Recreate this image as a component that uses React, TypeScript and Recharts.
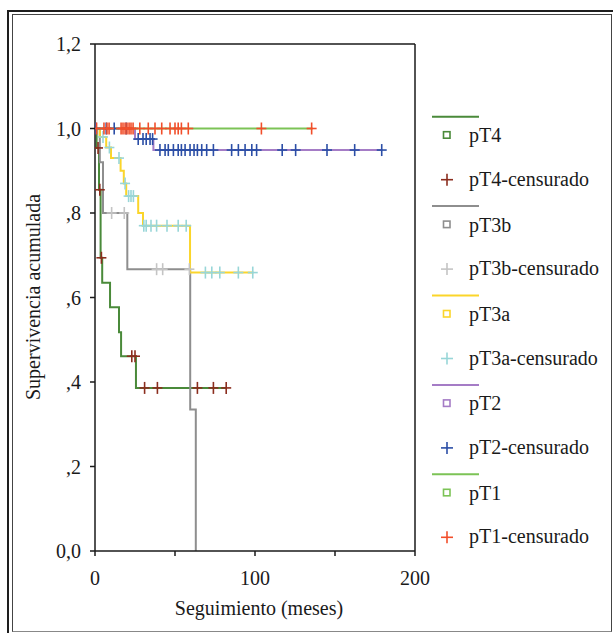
import React from "react";
import {
    ComposedChart, Line, Scatter, XAxis, YAxis, ReferenceLine
} from "recharts";

// Kaplan-Meier step curves: event times (months) and survival after each step
const pT4Times = [0, 1, 2.5, 3.5, 4.5, 9.4, 15, 16.3, 25.6, 82];
const pT4Surv = [1, 0.954, 0.855, 0.694, 0.635, 0.577, 0.518, 0.461, 0.386, 0.386];
const pT4Cens = [1.9, 3, 4, 23, 25, 31, 39, 64, 74, 82];

const pT3bTimes = [0, 3, 5, 20.2, 59.5, 63];
const pT3bSurv = [1, 0.92, 0.8, 0.667, 0.335, 0];
const pT3bCens = [10.4, 18.3, 38.5, 42.3, 59];

const pT3aTimes = [0, 3, 7, 10, 16, 18, 19.5, 27, 30, 59.4, 99];
const pT3aSurv = [1, 0.98, 0.955, 0.93, 0.9, 0.87, 0.84, 0.8, 0.77, 0.659, 0.659];
const pT3aCens = [5, 9, 15, 18.8, 21, 22.5, 24, 30.5, 32, 35, 38.5, 45, 52, 57, 69, 73, 78, 89.6, 98.6];

const pT2Times = [0, 25, 36.5, 179.5];
const pT2Surv = [1, 0.975, 0.949, 0.949];
const pT2Cens = [0.5, 7, 12, 19.5, 27, 30, 32, 34.4, 36, 40.6, 43.8, 45.8, 49, 52, 54, 56.3, 59.4, 61.9,
    64, 66.7, 69.8, 74, 85.4, 89.6, 93.8, 98, 101, 117, 125.4, 145, 162.3, 179.2];

const pT1Times = [0, 136];
const pT1Surv = [1, 1];
const pT1Cens = [1, 5.6, 7.5, 8.8, 16.3, 17.5, 18.8, 20, 21.3, 22.5, 23.8, 28, 33.3, 37.5, 41.7, 46.9,
    50, 52, 54, 58.3, 104, 135.4];

const xTicks = [0, 50, 100, 150, 200];
const yTicks = [0, 0.2, 0.4, 0.6, 0.8, 1.0, 1.2];

const FONT = "'Liberation Serif', 'Times New Roman', serif";

const toCurve = (times: number[], surv: number[]) => times.map((t, i) => ({ t, s: surv[i] }));

// censored marks sit on the curve: survival at that time
const toCens = (cens: number[], times: number[], surv: number[]) =>
    cens.map((t) => {
        let s = surv[0];
        for (let i = 0; i < times.length; i++) if (times[i] <= t) s = surv[i];
        return { t, s };
    });

const series = [
    { name: "pT4", times: pT4Times, surv: pT4Surv, cens: pT4Cens, line: "#4a8a3a", mark: "#8b2d1e" },
    { name: "pT3b", times: pT3bTimes, surv: pT3bSurv, cens: pT3bCens, line: "#8e8e8e", mark: "#c4c4c4" },
    { name: "pT3a", times: pT3aTimes, surv: pT3aSurv, cens: pT3aCens, line: "#fbd52a", mark: "#98d6d8" },
    { name: "pT2", times: pT2Times, surv: pT2Surv, cens: pT2Cens, line: "#a57cc6", mark: "#2b4ea6" },
    { name: "pT1", times: pT1Times, surv: pT1Surv, cens: pT1Cens, line: "#7cc356", mark: "#f24e2a" },
];

const Cross = (color: string) => (props: any) => {
    const { cx, cy } = props;
    return (
        <g stroke={color} strokeWidth={1.6}>
            <line x1={cx - 5} y1={cy} x2={cx + 5} y2={cy} />
            <line x1={cx} y1={cy - 6} x2={cx} y2={cy + 6} />
        </g>
    );
};

const XTick = (props: any) => {
    const { x, y, payload } = props;
    if (payload.value % 100 !== 0) return null;
    return (
        <text x={x} y={y + 20} textAnchor="middle" dominantBaseline="central"
            fontFamily={FONT} fontSize={20} fill="#1a1a1a">
            {payload.value}
        </text>
    );
};

const fmtY = (v: number) => {
    if (v === 0) return "0,0";
    const s = v.toFixed(1).replace(".", ",");
    return s.startsWith("0") ? s.slice(1) : s;
};

const YTick = (props: any) => {
    const { x, y, payload } = props;
    return (
        <text x={x - 7} y={y} textAnchor="end" dominantBaseline="central"
            fontFamily={FONT} fontSize={20} fill="#1a1a1a">
            {fmtY(payload.value)}
        </text>
    );
};

const Legend = () => (
    <svg width={190} height={460} style={{ position: "absolute", left: 420, top: 100 }}>
        {series.map((s, i) => {
            const y0 = 16.7 + i * 89.4;
            return (
                <g key={s.name}>
                    <line x1={12} y1={y0} x2={59} y2={y0} stroke={s.line} strokeWidth={2} />
                    <rect x={23.5} y={y0 + 15} width={6.5} height={6.5} fill="none" stroke={s.line} strokeWidth={1.6} />
                    <text x={49} y={y0 + 18.5} dominantBaseline="central" fontFamily={FONT} fontSize={20} fill="#1a1a1a">
                        {s.name}
                    </text>
                    <line x1={21} y1={y0 + 63} x2={33} y2={y0 + 63} stroke={s.mark} strokeWidth={1.6} />
                    <line x1={27} y1={y0 + 57} x2={27} y2={y0 + 69} stroke={s.mark} strokeWidth={1.6} />
                    <text x={49} y={y0 + 62} dominantBaseline="central" fontFamily={FONT} fontSize={20} fill="#1a1a1a">
                        {s.name}-censurado
                    </text>
                </g>
            );
        })}
    </svg>
);

const App = () => {
    return (
        <div style={{ position: "fixed", left: 0, top: 0, width: 613, height: 633, overflow: "hidden", background: "#fff" }}>
            {/* double frame */}
            <div style={{ position: "absolute", left: 7, top: 10, width: 640, height: 640, border: "2px solid #1e1e1e" }} />
            <div style={{ position: "absolute", left: 12, top: 14, width: 598, height: 616, border: "1px solid #444", borderBottomColor: "#888" }} />

            <div style={{ position: "absolute", left: 0, top: 0 }}>
                <ComposedChart width={613} height={633} margin={{ top: 44, right: 198, bottom: 52, left: 40 }}>
                    <XAxis dataKey="t" type="number" domain={[0, 200]} ticks={xTicks} height={30}
                        stroke="#1a1a1a" strokeWidth={1.5} tickSize={5} tick={<XTick />} allowDataOverflow />
                    <YAxis dataKey="s" type="number" domain={[0, 1.2]} ticks={yTicks} width={55}
                        stroke="#1a1a1a" strokeWidth={1.5} tickSize={5} tick={<YTick />} allowDataOverflow />
                    <ReferenceLine y={1.2} stroke="#1a1a1a" strokeWidth={1.5} />
                    <ReferenceLine x={200} stroke="#1a1a1a" strokeWidth={1.5} />
                    {series.map((s) => (
                        <Line key={s.name + "-l"} data={toCurve(s.times, s.surv)} dataKey="s" type="stepAfter"
                            stroke={s.line} strokeWidth={2} dot={false} activeDot={false} isAnimationActive={false} />
                    ))}
                    {series.map((s) => (
                        <Scatter key={s.name + "-c"} data={toCens(s.cens, s.times, s.surv)} dataKey="s"
                            shape={Cross(s.mark)} isAnimationActive={false} />
                    ))}
                </ComposedChart>
            </div>

            {/* axis titles */}
            <div style={{
                position: "absolute", left: 33, top: 297, transform: "translate(-50%, -50%) rotate(-90deg)",
                whiteSpace: "nowrap", fontFamily: FONT, fontSize: 20, color: "#1a1a1a"
            }}>
                Supervivencia acumulada
            </div>
            <div style={{
                position: "absolute", left: 259, top: 608, transform: "translate(-50%, -50%)",
                whiteSpace: "nowrap", fontFamily: FONT, fontSize: 20, color: "#1a1a1a"
            }}>
                Seguimiento (meses)
            </div>

            <Legend />
        </div>
    );
};

export default App;
